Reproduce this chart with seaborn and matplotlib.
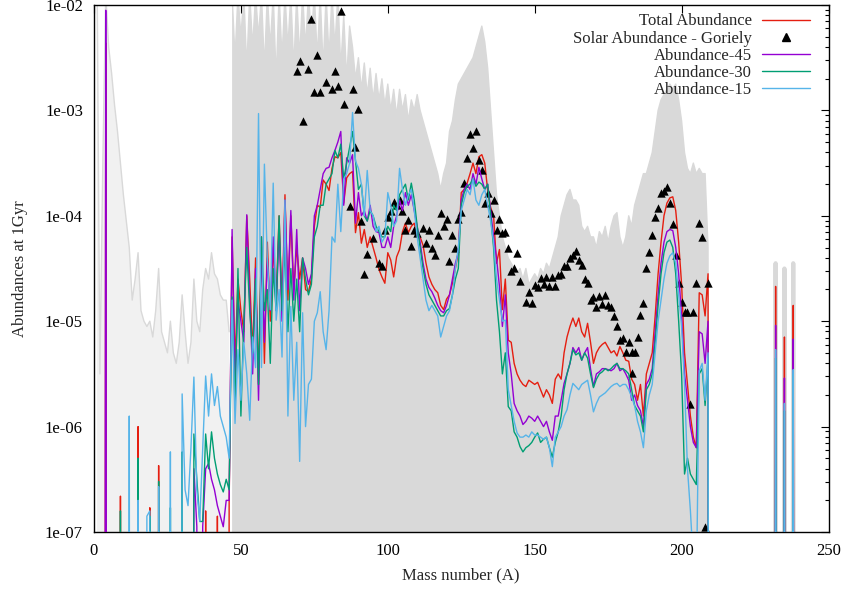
import numpy as np
import matplotlib
matplotlib.use("Agg")
import matplotlib.pyplot as plt
import seaborn as sns
from matplotlib.lines import Line2D
from matplotlib.ticker import FixedLocator, FixedFormatter, LogLocator, NullFormatter

# ---------------- data (log10 of abundance; None = below plotted range) ----------------
mass_low = list(range(1, 47))          # A = 1..46
mass_mid = list(range(47, 211))        # A = 47..210
mass_hi = list(range(229, 241))        # A = 229..240

# grey envelope of the model runs
grey_low = [-1.5, -5.5, -3.5, -1.9, -2.4, -2.65, -2.95, -3.2, -3.5, -3.8,
            -4.05, -4.3, -4.8, -4.6, -4.35, -4.9, -5.0, -5.05, -5.0, -5.15,
            -4.9, -4.5, -5.1, -5.2, -5.3, -5.0, -5.3, -5.4, -5.2, -4.75,
            -5.1, -5.4, -5.2, -4.6, -5.0, -5.1, -4.7, -4.5, -4.6, -4.35,
            -4.55, -4.6, -4.75, -4.8, -4.8, -5.1]
grey_mid = [-1.9, -2.5, -1.9, -2.3, -1.9, -2.6, -1.9, -2.4, -1.9, -2.3,
            -1.9, -2.6, -1.9, -2.4, -1.9, -2.7, -1.9, -2.5, -1.9, -2.4,
            -1.9, -2.6, -1.9, -2.5, -1.9, -2.4, -1.9, -2.3, -1.9, -2.5,
            -1.9, -2.6, -1.9, -2.5, -1.9, -2.4, -1.9, -2.6, -2.1, -2.7,
            -2.2, -2.4, -2.7, -2.5, -2.8, -2.55, -2.85, -2.6, -2.9, -2.65,
            -2.9, -2.7, -2.95, -2.75, -3.0, -2.8, -3.05, -2.8, -3.0, -2.85,
            -3.1, -2.9, -3.0, -2.85, -3.0, -3.1, -3.2, -3.3, -3.4, -3.5,
            -3.6, -3.75, -3.6, -3.5, -3.2, -3.1, -2.9, -2.75, -2.7, -2.65,
            -2.6, -2.55, -2.5, -2.4, -2.3, -2.2, -2.35, -2.6, -3.0, -3.4,
            -3.8, -4.0, -4.2, -4.3, -4.4, -4.45, -4.5, -4.55, -4.5, -4.6,
            -4.5, -4.65, -4.6, -4.55, -4.6, -4.5, -4.55, -4.45, -4.5, -4.4,
            -4.3, -4.2, -4.0, -3.9, -3.8, -3.75, -3.85, -3.85, -3.9, -4.1,
            -4.15, -4.1, -4.2, -4.2, -4.3, -4.15, -4.2, -4.1, -4.25, -4.1,
            -4.0, -3.97, -4.2, -4.3, -4.2, -4.0, -4.1, -3.9, -3.8, -3.7,
            -3.6, -3.6, -3.5, -3.4, -3.2, -3.0, -2.9, -2.85, -2.8, -2.75,
            -2.8, -2.75, -2.9, -3.1, -3.4, -3.55, -3.6, -3.5, -3.6, -3.55,
            -3.6, -3.6, -4.3, None]
grey_hi = [None, None, None, -4.45, None, None, -4.5, None, None, -4.45, None, None]

# Total Abundance
total_low = [None, None, None, -2.36, None, None, None, None, -6.66, None,
             None, None, None, None, -6.0, None, None, None, -6.77, None,
             None, -6.37, None, None, None, None, None, None, None, None,
             None, None, None, None, None, None, None, -6.8, None, None,
             None, -6.85, None, None, None, -6.73]
total_mid = [-4.2, -5.4, -4.6, -4.9, -5.1, -4.0, -4.6, -5.3, -4.4, -5.6,
             -4.2, -5.4, -4.25, -5.0, -4.3, -4.8, -4.0, -4.9, -3.8, -4.8,
             -4.0, -4.7, -4.3, -4.6, -4.4, -4.7, -4.72, -4.6, -4.1, -3.9,
             -3.92, -3.66, -3.7, -3.76, -3.55, -3.44, -3.45, -3.4, -3.88, -3.64,
             -3.6, -3.58, -4.16, -3.97, -4.26, -4.13, -4.3, -4.2, -4.3, -4.4,
             -4.51, -4.58, -4.64, -4.35, -4.42, -4.58, -4.39, -4.32, -4.15, -4.07,
             -4.16, -4.1, -4.07, -4.2, -4.2, -4.28, -4.45, -4.58, -4.65, -4.7,
             -4.73, -4.85, -4.89, -4.79, -4.75, -4.64, -4.5, -4.35, -3.78, -3.75,
             -3.69, -3.6, -3.5, -3.6, -3.44, -3.42, -3.5, -3.76, -3.92, -4.0,
             -4.45, -4.32, -4.89, -4.6, -5.18, -5.2, -5.4, -5.5, -5.56, -5.6,
             -5.62, -5.56, -5.58, -5.6, -5.58, -5.65, -5.72, -5.65, -5.7, -5.78,
             -5.55, -5.5, -5.55, -5.3, -5.15, -5.05, -4.97, -5.05, -4.97, -5.1,
             -5.15, -5.02, -5.2, -5.4, -5.3, -5.25, -5.22, -5.2, -5.25, -5.3,
             -5.28, -5.33, -5.24, -5.3, -5.37, -5.38, -5.55, -5.6, -5.75, -5.6,
             -5.9, -5.5, -5.4, -5.3, -4.95, -4.55, -4.25, -4.0, -3.88, -3.83,
             -3.82, -3.95, -4.25, -4.65, -5.3, -5.6, -5.9, -6.1, -6.2, -4.73,
             -4.75, -4.95, -4.55, None]
total_hi = [None, None, None, -4.67, None, None, -5.15, None, None, -4.85, None, None]

# Abundance-45
ab45_low = [None, None, None, -2.05, None, None, None, None, None, None,
            None, None, None, None, -6.32, None, None, None, None, None,
            None, None, None, None, None, None, None, None, None, -6.57,
            None, None, None, -6.4, -6.95, None, -6.95, -6.4, -6.35, -6.5,
            -6.6, -6.75, -6.85, -6.95, -6.7, -6.7]
ab45_mid = [-4.13, -5.6, -4.8, -5.0, -5.2, -3.99, -4.8, -5.5, -4.5, -5.75,
            -4.3, -5.2, -4.4, -4.9, -4.2, -4.9, -4.1, -5.0, -3.85, -4.7,
            -3.95, -4.8, -4.13, -4.9, -4.4, -4.5, -4.65, -4.55, -4.0, -3.9,
            -3.75, -3.6, -3.55, -3.54, -3.45, -3.38, -3.3, -3.2, -3.9, -3.45,
            -3.5, -3.42, -4.07, -3.78, -4.0, -3.95, -4.05, -3.9, -4.1, -4.15,
            -4.16, -4.3, -4.3, -4.2, -4.3, -4.1, -4.0, -3.85, -3.95, -3.78,
            -3.9, -3.8, -3.95, -4.1, -4.25, -4.45, -4.6, -4.68, -4.72, -4.78,
            -4.85, -4.9, -4.92, -4.85, -4.75, -4.6, -4.45, -4.35, -3.85, -3.75,
            -3.7, -3.75, -3.6, -3.7, -3.54, -3.65, -3.75, -3.7, -3.95, -4.2,
            -4.4, -4.67, -5.05, -4.75, -5.3, -5.5, -5.78, -5.85, -5.9, -5.98,
            -5.95, -5.9, -5.92, -5.95, -5.9, -5.95, -6.0, -5.95, -6.05, -6.13,
            -5.9, -5.9, -5.75, -5.59, -5.5, -5.4, -5.25, -5.3, -5.25, -5.37,
            -5.3, -5.25, -5.45, -5.62, -5.5, -5.48, -5.45, -5.45, -5.46, -5.47,
            -5.45, -5.4, -5.47, -5.45, -5.5, -5.56, -5.75, -5.7, -5.8, -5.85,
            -6.0, -5.6, -5.55, -5.45, -5.1, -4.75, -4.45, -4.25, -4.15, -4.13,
            -4.14, -4.3, -4.55, -4.95, -5.5, -5.75, -6.0, -6.15, -6.2, -5.1,
            -5.12, -5.4, -5.0, None]
ab45_hi = [None, None, None, -5.04, None, None, -5.54, None, None, -5.17, None, None]

# Abundance-30
ab30_low = [None, None, None, None, None, None, None, None, -6.8, None,
            None, None, None, None, -6.3, None, None, None, -6.85, None,
            None, -6.52, None, None, None, -6.77, None, None, None, -6.24,
            None, None, None, -6.07, -6.5, -6.9, -6.9, -6.07, -6.4, -6.05,
            -6.3, -6.45, -6.55, -6.62, -6.5, -6.6]
ab30_mid = [-4.77, -5.84, -4.5, -5.9, -5.0, -4.3, -4.9, -5.3, -4.6, -5.6,
            -4.2, -4.9, -4.7, -5.4, -4.5, -4.9, -4.0, -4.9, -4.3, -5.1,
            -4.5, -5.0, -4.6, -5.1, -4.4, -4.6, -4.75, -4.65, -4.2, -4.1,
            -3.9, -3.9, -3.7, -3.65, -3.6, -3.38, -3.45, -3.32, -3.65, -3.5,
            -3.35, -3.2, -3.47, -3.75, -3.7, -4.0, -4.05, -3.95, -4.0, -4.1,
            -4.15, -4.2, -4.2, -4.1, -4.15, -3.9, -3.95, -3.8, -3.75, -3.7,
            -3.85, -3.69, -3.85, -4.1, -4.3, -4.5, -4.65, -4.75, -4.8, -4.85,
            -4.9, -4.95, -4.95, -4.9, -4.88, -4.75, -4.6, -4.5, -3.9, -3.78,
            -3.72, -3.7, -3.65, -3.72, -3.68, -3.7, -3.75, -3.7, -4.0, -4.3,
            -4.8, -5.1, -5.5, -5.3, -5.81, -5.85, -6.05, -6.1, -6.19, -6.24,
            -6.2, -6.18, -6.15, -6.1, -6.06, -6.15, -6.12, -6.1, -6.2, -6.29,
            -6.15, -6.05, -5.9, -5.65, -5.5, -5.4, -5.27, -5.32, -5.3, -5.37,
            -5.3, -5.35, -5.5, -5.63, -5.55, -5.5, -5.48, -5.45, -5.47, -5.45,
            -5.42, -5.4, -5.45, -5.45, -5.47, -5.5, -5.65, -5.8, -5.85, -5.9,
            -6.05, -5.65, -5.6, -5.5, -5.2, -4.85, -4.55, -4.35, -4.25, -4.23,
            -4.3, -4.55, -5.0, -5.5, -6.45, -6.3, -6.45, -6.5, -6.55, -5.5,
            -5.45, -5.8, -5.35, None]
ab30_hi = [None, None, None, -5.35, None, None, -5.85, None, None, -5.5, None, None]

# Abundance-15
ab15_low = [None, None, None, None, None, None, None, None, None, None,
            None, -5.9, None, None, -6.7, None, None, -6.85, -6.8, None,
            None, -6.57, None, None, None, -6.24, None, None, None, -5.69,
            -6.6, -6.75, -6.2, -5.53, -6.6, -6.9, -6.2, -5.52, -5.9, -5.5,
            -5.8, -5.62, -5.9, -6.0, -6.1, -6.3]
ab15_mid = [-4.8, -5.97, -5.27, -5.75, -5.2, -5.5, -5.94, -5.15, -5.44, -3.03,
            -5.44, -3.51, -4.42, -4.89, -3.69, -4.99, -4.7, -5.34, -3.85, -5.9,
            -4.86, -5.75, -5.2, -6.33, -4.92, -6.0, -5.6, -5.55, -5.0, -4.92,
            -4.72, -5.1, -5.27, -4.9, -4.2, -4.25, -3.7, -4.15, -3.65, -3.6,
            -3.5, -3.02, -3.48, -3.55, -3.7, -4.0, -3.57, -3.95, -4.0, -4.15,
            -4.1, -4.25, -4.2, -3.78, -3.9, -4.1, -4.05, -3.55, -3.75, -3.9,
            -3.8, -3.75, -3.95, -4.2, -4.4, -4.6, -4.8, -4.9, -4.85, -4.9,
            -4.95, -5.15, -5.05, -4.95, -4.9, -4.75, -4.5, -4.3, -3.95, -3.85,
            -3.75, -3.8, -3.65, -3.85, -3.9, -3.8, -3.75, -3.9, -4.05, -4.25,
            -4.6, -4.8, -5.0, -4.99, -5.65, -5.8, -5.95, -6.06, -6.1, -6.1,
            -6.08, -6.1, -6.05, -6.08, -6.08, -6.1, -6.12, -6.1, -6.2, -6.38,
            -6.1, -6.05, -6.0, -5.9, -5.84, -5.7, -5.59, -5.62, -5.65, -5.6,
            -5.58, -5.56, -5.7, -5.86, -5.78, -5.72, -5.7, -5.68, -5.65, -5.62,
            -5.6, -5.59, -5.62, -5.6, -5.6, -5.65, -5.72, -5.8, -5.95, -6.05,
            -6.2, -5.85, -5.7, -5.6, -5.3, -5.0, -4.8, -4.6, -4.45, -4.38,
            -4.35, -4.45, -4.75, -5.05, -5.6, -6.4, -6.8, -7.3, -7.6, -5.47,
            -5.4, -5.75, -5.3, None]
ab15_hi = [None, None, None, -5.27, None, None, -5.78, None, None, -5.46, None, None]

# Solar abundances (Goriely)
solar_A = [69, 70, 71, 73, 74, 75, 76, 77, 79, 81, 82, 83, 84, 85, 87, 88, 89, 90,
           91, 92, 93, 95, 97, 98, 99, 100, 101, 102, 103, 104, 105, 106, 107, 108,
           109, 110, 112, 113, 114, 115, 116, 117, 118, 119, 120, 121, 122, 123, 124,
           125, 126, 127, 128, 129, 130, 131, 132, 133, 134, 135, 136, 137, 138, 139,
           140, 141, 142, 143, 144, 145, 147, 148, 149, 150, 151, 152, 153, 154, 155,
           156, 157, 158, 159, 160, 161, 162, 163, 164, 165, 166, 167, 168, 169, 170,
           171, 172, 173, 174, 175, 176, 177, 178, 179, 180, 181, 182, 183, 183, 184,
           185, 186, 187, 188, 189, 190, 191, 192, 193, 194, 195, 196, 197, 198, 199,
           200, 201, 202, 203, 204, 205, 206, 207, 208, 209]
solar_log = [-2.63, -2.53, -3.10, -2.61, -2.13, -2.83, -2.47, -2.83, -2.73, -2.80,
             -2.63, -2.77, -2.06, -2.94, -3.91, -2.80, -3.35, -2.99,
             -4.05, -4.55, -4.36, -4.21, -4.45, -4.48, -4.13, -4.01, -3.95, -3.87,
             -3.90, -3.85, -3.95, -4.13, -4.04, -4.29,
             -4.13, -4.16, -4.12, -4.26, -4.13, -4.31, -4.37, -4.18, -3.97, -4.10,
             -4.03, -4.43, -4.18, -4.31, -4.03,
             -3.96, -3.69, -3.45, -3.22, -3.36, -3.20, -3.47, -3.57, -3.88, -3.78,
             -3.97, -3.85, -4.13, -4.03, -4.16,
             -4.15, -4.31, -4.52, -4.50, -4.35, -4.62, -4.82, -4.72, -4.83, -4.66,
             -4.68, -4.59, -4.65, -4.58, -4.67,
             -4.58, -4.67, -4.56, -4.55, -4.48, -4.48, -4.40, -4.37, -4.33, -4.42,
             -4.47, -4.60, -4.64, -4.80, -4.77,
             -4.87, -4.76, -4.84, -4.75, -4.85, -4.87, -4.95, -5.05, -5.18, -5.16,
             -5.29, -5.20, -5.29, -5.49, -5.29,
             -5.15, -4.94, -4.83, -4.50, -4.34, -4.18, -4.01, -3.93, -3.78, -3.76,
             -3.73, -3.88, -4.08, -4.37, -4.64,
             -4.82, -4.91, -4.91, -5.79, -4.91, -4.64, -4.07, -4.20, -6.95, -4.64]

x_ticks = [0, 50, 100, 150, 200, 250]
y_ticks = [1e-7, 1e-6, 1e-5, 1e-4, 1e-3, 1e-2]
y_tick_labels = ["1e-07", "1e-06", "1e-05", "1e-04", "1e-03", "1e-02"]

FLOOR = 1e-30


def to_vals(lst):
    return np.array([FLOOR if v is None else 10.0 ** v for v in lst])


A_all = np.array(mass_low + mass_mid + mass_hi, dtype=float)
series = {
    "Total Abundance": (to_vals(total_low + total_mid + total_hi), "#e51e10"),
    "Abundance-45": (to_vals(ab45_low + ab45_mid + ab45_hi), "#9400d3"),
    "Abundance-30": (to_vals(ab30_low + ab30_mid + ab30_hi), "#009e73"),
    "Abundance-15": (to_vals(ab15_low + ab15_mid + ab15_hi), "#56b4e9"),
}

# ---------------- style ----------------
sns.set_style("white")
plt.rcParams["font.family"] = ["Liberation Serif", "DejaVu Serif"]
plt.rcParams["font.size"] = 12

fig = plt.figure(figsize=(8.43, 5.92), dpi=100)
ax = fig.add_axes([94 / 843, 1 - 532 / 592, (828.5 - 94) / 843, (532 - 5) / 592])
ax.set_yscale("log")

GREY = "#d9d9d9"
# grey model-run envelope
ax.fill_between(mass_low, FLOOR, to_vals(grey_low), color="#f1f1f1", lw=0, zorder=1)
ax.plot(mass_low, to_vals(grey_low), color=GREY, lw=1.0, zorder=1)
ax.fill_between(mass_mid, FLOOR, to_vals(grey_mid), color=GREY, lw=0, zorder=1)
ax.plot(mass_mid, to_vals(grey_mid), color=GREY, lw=1.0, zorder=1)
ax.plot(mass_hi, to_vals(grey_hi), color=GREY, lw=3.0, zorder=1)

# coloured runs
order = ["Total Abundance", "Abundance-45", "Abundance-30", "Abundance-15"]
z = {"Total Abundance": 3, "Abundance-45": 5, "Abundance-30": 6, "Abundance-15": 7}
for name in order:
    vals, col = series[name]
    sns.lineplot(x=A_all, y=vals, ax=ax, color=col, lw=1.0, sort=False,
                 estimator=None, zorder=z[name], legend=False)

sns.scatterplot(x=solar_A, y=10.0 ** np.array(solar_log), ax=ax, marker="^",
                s=36, color="black", edgecolor="black", linewidth=0, zorder=4,
                legend=False)

ax.set_xlim(0, 250)
ax.set_ylim(1e-7, 1e-2)
ax.xaxis.set_major_locator(FixedLocator(x_ticks))
ax.yaxis.set_major_locator(FixedLocator(y_ticks))
ax.yaxis.set_major_formatter(FixedFormatter(y_tick_labels))
ax.yaxis.set_minor_locator(LogLocator(base=10, subs=np.arange(2, 10), numticks=20))
ax.yaxis.set_minor_formatter(NullFormatter())
ax.tick_params(which="both", direction="in", top=True, right=True, labelsize=12,
               colors="black")
ax.tick_params(which="major", length=6, width=0.8, pad=8)
ax.tick_params(which="minor", length=3, width=0.8)
ax.tick_params(axis="x", which="minor", bottom=False, top=False)
for s in ax.spines.values():
    s.set_visible(True)
    s.set_color("black")
    s.set_linewidth(1.0)

ax.set_xlabel("Mass number (A)", fontsize=12, labelpad=6)
ax.set_ylabel("Abundances at 1Gyr", fontsize=12, labelpad=12)

handles = [
    Line2D([], [], color="#e51e10", lw=1.0),
    Line2D([], [], color="black", marker="^", ls="none", markersize=6),
    Line2D([], [], color="#9400d3", lw=1.0),
    Line2D([], [], color="#009e73", lw=1.0),
    Line2D([], [], color="#56b4e9", lw=1.0),
]
labels = ["Total Abundance", "Solar Abundance - Goriely", "Abundance-45",
          "Abundance-30", "Abundance-15"]
leg = ax.legend(handles, labels, loc="upper right", bbox_to_anchor=(0.975, 0.984),
                frameon=False, markerfirst=False, handlelength=2.9, handletextpad=0.6,
                labelspacing=0.07, borderpad=0, borderaxespad=0, fontsize=12,
                numpoints=1)
for t in leg.get_texts():
    t.set_ha("right")

fig.savefig("out.png", dpi=100)
